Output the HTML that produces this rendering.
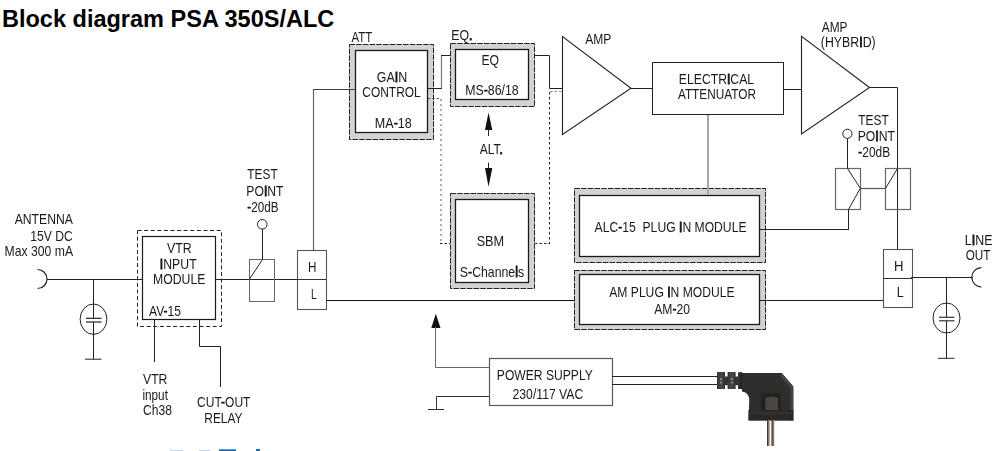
<!DOCTYPE html>
<html><head><meta charset="utf-8"><style>
html,body{margin:0;padding:0;background:#fff;overflow:hidden}
svg{display:block}
#main{position:absolute;left:0;top:0;will-change:transform}
#ttl{position:absolute;left:0;top:0;background:#fff}
text{font-family:"Liberation Sans",sans-serif}
.b{stroke:#111;stroke-width:0.9px}
.h2{stroke:#111;stroke-width:0.45px}
</style></head><body>
<svg id="main" width="1000" height="451" viewBox="0 0 1000 451">
<rect x="574" y="188" width="192" height="75" fill="#d2d3d5"/>
<rect x="579" y="195" width="181" height="62" fill="#fff"/>
<rect x="574.5" y="188.5" width="191" height="74" stroke="#222" stroke-width="1" fill="none" stroke-dasharray="5.4 1.3"/>
<rect x="579.5" y="195.5" width="180" height="61" stroke="#1a1a1a" stroke-width="1.3" fill="none" />
<rect x="574" y="270" width="192" height="60" fill="#d2d3d5"/>
<rect x="579" y="274" width="181" height="51" fill="#fff"/>
<rect x="574.5" y="270.5" width="191" height="59" stroke="#222" stroke-width="1" fill="none" stroke-dasharray="5.4 1.3"/>
<rect x="579.5" y="274.5" width="180" height="50" stroke="#1a1a1a" stroke-width="1.3" fill="none" />
<rect x="349" y="44" width="85" height="96" fill="#d2d3d5"/>
<rect x="355" y="50" width="73" height="83" fill="#fff"/>
<rect x="349.5" y="44.5" width="84" height="95" stroke="#222" stroke-width="1" fill="none" stroke-dasharray="5.4 1.3"/>
<rect x="355.5" y="50.5" width="72" height="82" stroke="#1a1a1a" stroke-width="1.3" fill="none" />
<rect x="450" y="43" width="85" height="64" fill="#d2d3d5"/>
<rect x="455" y="49" width="74" height="51" fill="#fff"/>
<rect x="450.5" y="43.5" width="84" height="63" stroke="#222" stroke-width="1" fill="none" stroke-dasharray="5.4 1.3"/>
<rect x="455.5" y="49.5" width="73" height="50" stroke="#1a1a1a" stroke-width="1.3" fill="none" />
<rect x="450" y="193" width="85" height="96" fill="#d2d3d5"/>
<rect x="455" y="199" width="74" height="84" fill="#fff"/>
<rect x="450.5" y="193.5" width="84" height="95" stroke="#222" stroke-width="1" fill="none" stroke-dasharray="5.4 1.3"/>
<rect x="455.5" y="199.5" width="73" height="83" stroke="#1a1a1a" stroke-width="1.3" fill="none" />
<polygon points="488.5,112.4 485,130 492.3,130" fill="#111"/>
<line x1="488.5" y1="129" x2="488.5" y2="136" stroke="#222" stroke-width="1" />
<polygon points="488.5,186.7 485,168 492.3,168" fill="#111"/>
<line x1="488.5" y1="162.7" x2="488.5" y2="169" stroke="#222" stroke-width="1" />
<line x1="428" y1="98.5" x2="441" y2="98.5" stroke="#444" stroke-width="1" stroke-dasharray="2.2 2.2"/>
<line x1="441" y1="99" x2="441" y2="243" stroke="#9a9a9a" stroke-width="1.6" stroke-dasharray="2 3"/>
<line x1="440" y1="243.5" x2="450" y2="243.5" stroke="#222" stroke-width="1" stroke-dasharray="2.5 2"/>
<line x1="550" y1="91.5" x2="562" y2="91.5" stroke="#888" stroke-width="1" stroke-dasharray="2.5 2"/>
<line x1="549.5" y1="92" x2="549.5" y2="243" stroke="#222" stroke-width="1" stroke-dasharray="2.5 2.5"/>
<line x1="535" y1="243.5" x2="550" y2="243.5" stroke="#222" stroke-width="1" stroke-dasharray="2.5 2"/>
<line x1="428" y1="88.5" x2="442" y2="88.5" stroke="#222" stroke-width="1" />
<line x1="441.5" y1="56" x2="441.5" y2="88" stroke="#777" stroke-width="1.2" />
<line x1="441" y1="55.5" x2="450" y2="55.5" stroke="#222" stroke-width="1" />
<polyline points="535,55.5 549.5,55.5 549.5,88.5 563,88.5" stroke="#222" stroke-width="1" fill="none" />
<polygon points="562.5,36.5 562.5,134.5 631,88.2" fill="#fff" stroke="#222" stroke-width="1.1"/>
<line x1="631" y1="88.5" x2="652" y2="88.5" stroke="#222" stroke-width="1" />
<rect x="652.5" y="62.5" width="131" height="52" stroke="#222" stroke-width="1" fill="none" />
<line x1="783" y1="89.5" x2="801" y2="89.5" stroke="#222" stroke-width="1" />
<line x1="708" y1="115" x2="708" y2="195" stroke="#a6a6a6" stroke-width="2" />
<polygon points="801.5,36.4 801.5,134 869.5,87.5" fill="#fff" stroke="#222" stroke-width="1.1"/>
<polyline points="869,87.5 897.5,87.5 897.5,249" stroke="#222" stroke-width="1" fill="none" />
<circle cx="847.4" cy="133.8" r="4.6" fill="#fff" stroke="#222" stroke-width="1"/>
<line x1="847.5" y1="138.4" x2="847.5" y2="168" stroke="#222" stroke-width="1" />
<rect x="835.5" y="168.5" width="25" height="41" stroke="#666" stroke-width="1.2" fill="none" />
<rect x="885.5" y="168.5" width="25" height="41" stroke="#666" stroke-width="1.2" fill="none" />
<polyline points="847.5,168.5 860.3,188.3 848.5,209.5 848.5,230" stroke="#222" stroke-width="1" fill="none" />
<line x1="860.5" y1="188.5" x2="885" y2="188.5" stroke="#555" stroke-width="1.2" />
<line x1="885.5" y1="188.3" x2="897.5" y2="168.5" stroke="#222" stroke-width="1" />
<line x1="760" y1="229.5" x2="848.5" y2="229.5" stroke="#222" stroke-width="1" />
<rect x="883.5" y="249.5" width="29" height="58" stroke="#555" stroke-width="1.1" fill="none" />
<line x1="883" y1="278.5" x2="912" y2="278.5" stroke="#333" stroke-width="1" />
<line x1="911" y1="277.5" x2="973" y2="277.5" stroke="#222" stroke-width="1" />
<path d="M 981.5 267.6 A 9.7 9.7 0 0 0 981.5 287" fill="none" stroke="#222" stroke-width="1.2"/>
<line x1="760" y1="300.5" x2="883" y2="300.5" stroke="#222" stroke-width="1" />
<line x1="946.5" y1="277" x2="946.5" y2="304" stroke="#222" stroke-width="1" />
<ellipse cx="946.5" cy="318" rx="13.5" ry="15" fill="#fff" stroke="#222" stroke-width="1"/>
<line x1="939" y1="317.3" x2="954.5" y2="317.3" stroke="#333" stroke-width="1.2" />
<line x1="939" y1="320.8" x2="954.5" y2="320.8" stroke="#333" stroke-width="1.2" />
<line x1="946.5" y1="303" x2="946.5" y2="317" stroke="#222" stroke-width="1" />
<line x1="946.5" y1="321" x2="946.5" y2="358.5" stroke="#222" stroke-width="1" />
<line x1="938" y1="358.3" x2="954.5" y2="358.3" stroke="#222" stroke-width="1" />
<path d="M 37.5 269.5 A 9.5 9.5 0 0 1 37.5 288.5" fill="none" stroke="#222" stroke-width="1.2"/>
<line x1="47" y1="279.5" x2="142" y2="279.5" stroke="#222" stroke-width="1" />
<line x1="93.5" y1="279" x2="93.5" y2="304" stroke="#222" stroke-width="1" />
<ellipse cx="93.5" cy="319.2" rx="13.4" ry="15.2" fill="#fff" stroke="#222" stroke-width="1"/>
<line x1="86" y1="318.3" x2="101.5" y2="318.3" stroke="#222" stroke-width="1.2" />
<line x1="86" y1="322" x2="101.5" y2="322" stroke="#222" stroke-width="1.2" />
<line x1="93.5" y1="304" x2="93.5" y2="318" stroke="#222" stroke-width="1" />
<line x1="93.5" y1="322" x2="93.5" y2="359.5" stroke="#222" stroke-width="1" />
<line x1="85" y1="359.2" x2="101.5" y2="359.2" stroke="#222" stroke-width="1" />
<rect x="137.5" y="230.5" width="84" height="96" stroke="#222" stroke-width="1" fill="none" stroke-dasharray="4 2.6"/>
<rect x="142.5" y="236.5" width="73" height="83" stroke="#1a1a1a" stroke-width="1.2" fill="none" />
<line x1="215" y1="279.5" x2="297" y2="279.5" stroke="#222" stroke-width="1" />
<line x1="154.5" y1="319" x2="154.5" y2="362" stroke="#222" stroke-width="1" />
<polyline points="199.5,319 199.5,346.5 220.5,346.5 220.5,387" stroke="#222" stroke-width="1" fill="none" />
<circle cx="262.3" cy="224.3" r="4.8" fill="#fff" stroke="#222" stroke-width="1"/>
<line x1="262.5" y1="229" x2="262.5" y2="260" stroke="#222" stroke-width="1" />
<rect x="249.5" y="259.5" width="25" height="42" stroke="#666" stroke-width="1" fill="none" />
<line x1="262.5" y1="259.5" x2="249.5" y2="279" stroke="#222" stroke-width="1" />
<rect x="297.5" y="250.5" width="29" height="59" stroke="#555" stroke-width="1.1" fill="none" />
<line x1="297" y1="279.5" x2="326" y2="279.5" stroke="#333" stroke-width="1" />
<line x1="313.5" y1="89" x2="313.5" y2="250" stroke="#666" stroke-width="1.2" />
<line x1="313" y1="89.5" x2="355" y2="89.5" stroke="#444" stroke-width="1" />
<line x1="326" y1="300.5" x2="574" y2="300.5" stroke="#111" stroke-width="1.2" />
<rect x="489.5" y="358.5" width="123" height="47" stroke="#5a5a5a" stroke-width="1.2" fill="none" />
<polygon points="435.8,313.8 431.3,328 440.5,328" fill="#111"/>
<polyline points="435.5,327 435.5,367.5 489,367.5" stroke="#666" stroke-width="1" fill="none" />
<polyline points="489,396.5 436.5,396.5 436.5,409" stroke="#333" stroke-width="1" fill="none" />
<line x1="428" y1="409.5" x2="444" y2="409.5" stroke="#333" stroke-width="1" />
<line x1="612" y1="376.5" x2="718" y2="376.5" stroke="#222" stroke-width="1" />
<line x1="612" y1="384.5" x2="718" y2="384.5" stroke="#222" stroke-width="1" />
<g>
<path d="M717,372 H725 V376.5 H727.6 V372 H735.6 V376.5 H738 V372.3 H742 V389 H738 V385.3 H735.6 V389 H727.6 V385.3 H725 V389 H717 Z" fill="#343331"/>
<rect x="718.5" y="372" width="5" height="17" fill="#454442"/>
<rect x="729" y="372" width="5" height="17" fill="#454442"/>
<rect x="720" y="378" width="2" height="2" fill="#8a8884"/><rect x="720" y="381.5" width="2" height="2" fill="#8a8884"/>
<rect x="731" y="378" width="2" height="2" fill="#8a8884"/><rect x="731" y="381.5" width="2" height="2" fill="#8a8884"/>
<rect x="740.5" y="372.5" width="2" height="16.5" fill="#1e1e1d"/>
<path d="M742,373 L781.7,373 L793.3,386.6 L793.3,420.4 L748.5,420.4 L749.3,399 Q748.5,392.5 742,391.5 Z" fill="#2f2e2c"/>
<path d="M781.7,373 L793.3,386.6 L793.3,420.4 L790.5,420.4 L790.5,388 L780,375.5 Z" fill="#474542"/>
<path d="M761,393 L780.5,393 L780.5,410 L761,410 Z" fill="#222120"/>
<path d="M765.5,398 Q771.5,395 778,398 L778,410 L765.5,410 Z" fill="#4a4642"/>
<rect x="748.5" y="410" width="44.8" height="10.4" fill="#2a2927"/>
<rect x="750" y="412.5" width="42" height="1" fill="#3e3d3b"/>
<rect x="767" y="420" width="2.6" height="26" fill="#85776c"/>
<rect x="771.6" y="420" width="2.6" height="26" fill="#85776c"/>
<rect x="767" y="420" width="0.9" height="26" fill="#3d3530"/>
<rect x="771.6" y="420" width="0.9" height="26" fill="#3d3530"/>
</g>
<rect x="170" y="450" width="13" height="1" fill="#c5d2ea"/>
<rect x="199" y="450" width="11.5" height="1" fill="#c5d2ea"/>
<rect x="219" y="449.3" width="17" height="1.7" fill="#2a64ae"/>
<rect x="256" y="449" width="4" height="2" fill="#2a64ae"/>
<text x="351.56" y="41.86" font-size="14.20" font-weight="normal" textLength="20.82" lengthAdjust="spacingAndGlyphs" fill="#1a1a1a">ATT</text>
<text x="376.76" y="81.82" font-size="14.20" font-weight="normal" textLength="30.44" lengthAdjust="spacingAndGlyphs" fill="#1a1a1a">GA<tspan class="b">I</tspan>N</text>
<text x="362.32" y="97.24" font-size="14.20" font-weight="normal" textLength="58.40" lengthAdjust="spacingAndGlyphs" fill="#1a1a1a">CONTROL</text>
<text x="374.86" y="127.76" font-size="14.20" font-weight="normal" textLength="36.88" lengthAdjust="spacingAndGlyphs" fill="#1a1a1a">MA<tspan class="h2">-</tspan>18</text>
<text x="451.20" y="40.47" font-size="14.20" font-weight="normal" textLength="21.32" lengthAdjust="spacingAndGlyphs" fill="#1a1a1a">EQ<tspan class="b">.</tspan></text>
<text x="481.42" y="64.58" font-size="14.20" font-weight="normal" textLength="17.64" lengthAdjust="spacingAndGlyphs" fill="#1a1a1a">EQ</text>
<text x="465.20" y="95.32" font-size="14.20" font-weight="normal" textLength="53.54" lengthAdjust="spacingAndGlyphs" fill="#1a1a1a">MS<tspan class="h2">-</tspan>86/18</text>
<text x="479.66" y="153.68" font-size="14.20" font-weight="normal" textLength="23.08" lengthAdjust="spacingAndGlyphs" fill="#1a1a1a">ALT<tspan class="b">.</tspan></text>
<text x="476.64" y="245.98" font-size="14.20" font-weight="normal" textLength="27.56" lengthAdjust="spacingAndGlyphs" fill="#1a1a1a">SBM</text>
<text x="459.86" y="277.38" font-size="14.20" font-weight="normal" textLength="64.22" lengthAdjust="spacingAndGlyphs" fill="#1a1a1a">S<tspan class="h2">-</tspan>Channe<tspan class="b">l</tspan>s</text>
<text x="585.22" y="43.98" font-size="14.20" font-weight="normal" textLength="26.18" lengthAdjust="spacingAndGlyphs" fill="#1a1a1a">AMP</text>
<text x="678.86" y="83.72" font-size="14.20" font-weight="normal" textLength="75.20" lengthAdjust="spacingAndGlyphs" fill="#1a1a1a">ELECTR<tspan class="b">I</tspan>CAL</text>
<text x="677.88" y="99.08" font-size="14.20" font-weight="normal" textLength="78.08" lengthAdjust="spacingAndGlyphs" fill="#1a1a1a">ATTENUATOR</text>
<text x="821.78" y="31.66" font-size="14.20" font-weight="normal" textLength="25.74" lengthAdjust="spacingAndGlyphs" fill="#1a1a1a">AMP</text>
<text x="820.86" y="47.10" font-size="14.20" font-weight="normal" textLength="54.78" lengthAdjust="spacingAndGlyphs" fill="#1a1a1a">(HYBR<tspan class="b">I</tspan>D)</text>
<text x="858.34" y="125.44" font-size="14.20" font-weight="normal" textLength="30.50" lengthAdjust="spacingAndGlyphs" fill="#1a1a1a">TEST</text>
<text x="857.64" y="140.98" font-size="14.20" font-weight="normal" textLength="37.32" lengthAdjust="spacingAndGlyphs" fill="#1a1a1a">PO<tspan class="b">I</tspan>NT</text>
<text x="858.34" y="157.32" font-size="14.20" font-weight="normal" textLength="31.84" lengthAdjust="spacingAndGlyphs" fill="#1a1a1a"><tspan class="h2">-</tspan>20dB</text>
<text x="893.98" y="271.24" font-size="14.20" font-weight="normal" textLength="9.44" lengthAdjust="spacingAndGlyphs" fill="#1a1a1a">H</text>
<text x="896.76" y="297.44" font-size="14.20" font-weight="normal" textLength="6.98" lengthAdjust="spacingAndGlyphs" fill="#1a1a1a">L</text>
<text x="964.86" y="245.10" font-size="14.20" font-weight="normal" textLength="27.54" lengthAdjust="spacingAndGlyphs" fill="#1a1a1a">L<tspan class="b">I</tspan>NE</text>
<text x="965.66" y="260.20" font-size="14.20" font-weight="normal" textLength="24.72" lengthAdjust="spacingAndGlyphs" fill="#1a1a1a">OUT</text>
<text x="594.56" y="231.80" font-size="14.20" font-weight="normal" textLength="151.96" lengthAdjust="spacingAndGlyphs" fill="#1a1a1a">ALC<tspan class="h2">-</tspan>15&#160; PLUG <tspan class="b">I</tspan>N MODULE</text>
<text x="609.22" y="297.10" font-size="14.20" font-weight="normal" textLength="125.40" lengthAdjust="spacingAndGlyphs" fill="#1a1a1a">AM PLUG <tspan class="b">I</tspan>N MODULE</text>
<text x="654.22" y="313.70" font-size="14.20" font-weight="normal" textLength="35.74" lengthAdjust="spacingAndGlyphs" fill="#1a1a1a">AM<tspan class="h2">-</tspan>20</text>
<text x="496.86" y="380.36" font-size="14.20" font-weight="normal" textLength="95.98" lengthAdjust="spacingAndGlyphs" fill="#1a1a1a">POWER SUPPLY</text>
<text x="512.54" y="398.98" font-size="14.20" font-weight="normal" textLength="70.76" lengthAdjust="spacingAndGlyphs" fill="#1a1a1a">230/117 VAC</text>
<text x="14.66" y="224.10" font-size="14.20" font-weight="normal" textLength="58.18" lengthAdjust="spacingAndGlyphs" fill="#1a1a1a">ANTENNA</text>
<text x="30.30" y="240.74" font-size="14.20" font-weight="normal" textLength="42.54" lengthAdjust="spacingAndGlyphs" fill="#1a1a1a">15V DC</text>
<text x="4.54" y="256.40" font-size="14.20" font-weight="normal" textLength="68.52" lengthAdjust="spacingAndGlyphs" fill="#1a1a1a">Max 300 mA</text>
<text x="167.10" y="252.74" font-size="14.20" font-weight="normal" textLength="24.64" lengthAdjust="spacingAndGlyphs" fill="#1a1a1a">VTR</text>
<text x="159.86" y="268.92" font-size="14.20" font-weight="normal" textLength="36.76" lengthAdjust="spacingAndGlyphs" fill="#1a1a1a"><tspan class="b">I</tspan>NPUT</text>
<text x="153.08" y="284.46" font-size="14.20" font-weight="normal" textLength="52.32" lengthAdjust="spacingAndGlyphs" fill="#1a1a1a">MODULE</text>
<text x="149.00" y="315.64" font-size="14.20" font-weight="normal" textLength="31.96" lengthAdjust="spacingAndGlyphs" fill="#1a1a1a">AV<tspan class="h2">-</tspan>15</text>
<text x="143.10" y="383.56" font-size="14.20" font-weight="normal" textLength="24.30" lengthAdjust="spacingAndGlyphs" fill="#1a1a1a">VTR</text>
<text x="142.42" y="399.70" font-size="14.20" font-weight="normal" textLength="25.52" lengthAdjust="spacingAndGlyphs" fill="#1a1a1a">input</text>
<text x="143.10" y="415.02" font-size="14.20" font-weight="normal" textLength="28.98" lengthAdjust="spacingAndGlyphs" fill="#1a1a1a">Ch38</text>
<text x="197.10" y="407.22" font-size="14.20" font-weight="normal" textLength="53.30" lengthAdjust="spacingAndGlyphs" fill="#1a1a1a">CUT<tspan class="h2">-</tspan>OUT</text>
<text x="204.30" y="423.46" font-size="14.20" font-weight="normal" textLength="38.20" lengthAdjust="spacingAndGlyphs" fill="#1a1a1a">RELAY</text>
<text x="247.34" y="178.98" font-size="14.20" font-weight="normal" textLength="30.38" lengthAdjust="spacingAndGlyphs" fill="#1a1a1a">TEST</text>
<text x="246.30" y="195.66" font-size="14.20" font-weight="normal" textLength="37.20" lengthAdjust="spacingAndGlyphs" fill="#1a1a1a">PO<tspan class="b">I</tspan>NT</text>
<text x="247.34" y="211.96" font-size="14.20" font-weight="normal" textLength="31.06" lengthAdjust="spacingAndGlyphs" fill="#1a1a1a"><tspan class="h2">-</tspan>20dB</text>
<text x="307.98" y="271.98" font-size="14.20" font-weight="normal" textLength="8.42" lengthAdjust="spacingAndGlyphs" fill="#1a1a1a">H</text>
<text x="310.98" y="299.44" font-size="14.20" font-weight="normal" textLength="5.74" lengthAdjust="spacingAndGlyphs" fill="#1a1a1a">L</text>
</svg>
<svg id="ttl" width="340" height="34" viewBox="0 0 340 34">
<text x="1.96" y="26.50" font-size="23.50" font-weight="bold" textLength="332.34" lengthAdjust="spacingAndGlyphs" fill="#000">Block diagram PSA 350S/ALC</text>
</svg>
</body></html>
